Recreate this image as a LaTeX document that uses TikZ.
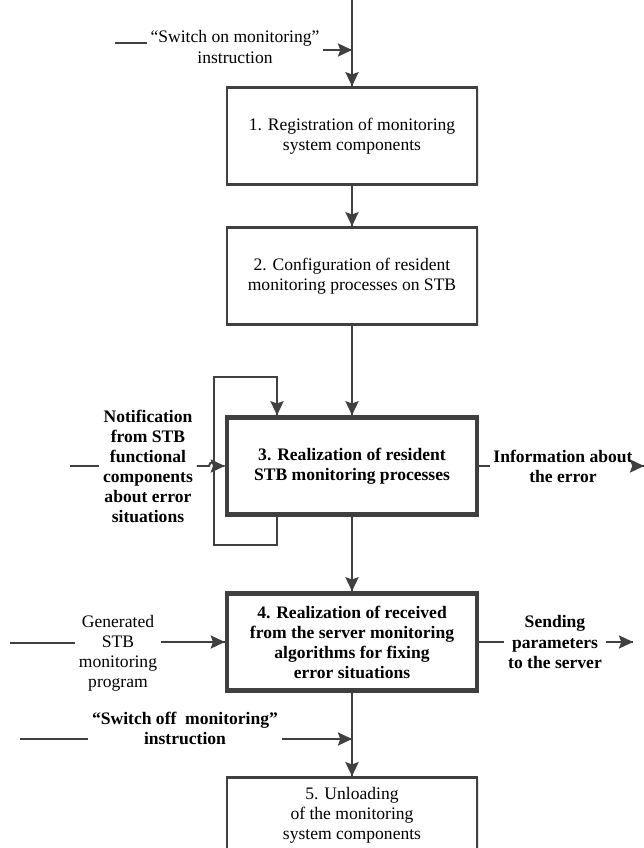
\documentclass[tikz,border=0pt]{standalone}
\usepackage{fontspec}
\setmainfont{Liberation Serif}
\usetikzlibrary{arrows.meta}
\usetikzlibrary{decorations.markings}
\usetikzlibrary{shadows}
\definecolor{mgray}{RGB}{64, 64, 64}
\newcommand{\stdfont}{\fontsize{10}{11.4}\selectfont}
\tikzset{flow/.style = {decoration={markings,
                                   mark=at position 1 with {\arrow{Stealth[length=8pt, width=7.5pt, inset=1.3pt]}}},
                       postaction={decorate}}}
\tikzset{wire/.style = {draw=mgray, color=mgray, line width=1.1pt}}
\tikzset{stage/.style = {draw=mgray, line width=1.5pt, fill=white, text=black,
                         minimum width=5cm, minimum height=1.94cm, align=center,
                         font=\stdfont,
                         drop shadow={shadow xshift=1pt, shadow yshift=-1pt,
                                      opacity=0.2, fill=gray}}}
\tikzset{keystage/.style = {stage, line width=2.6pt, font=\stdfont\bfseries}}
\tikzset{lbl/.style = {align=center, inner sep=2pt, font=\stdfont}}
\tikzset{blbl/.style = {lbl, font=\stdfont\bfseries}}

\begin{document}
\begin{tikzpicture}[x=0.02cm, y=-0.02cm]
      \useasboundingbox (0, 0) rectangle (644, 848);
      \clip (0, 0) rectangle (644, 848);
      % stages
      \node [stage] (reg) at (352, 136) {1. Registration of monitoring\\system components};
      \node [stage] (cfg) at (352, 276) {2. Configuration of resident\\monitoring processes on STB};
      \node [keystage] (real) at (352, 466) {3. Realization of resident\\STB monitoring processes};
      \node [keystage] (algo) at (352, 642) {4. Realization of received\\from the server monitoring\\algorithms for fixing\\error situations};
      \node [stage, minimum height=1.5cm] (unload) at (352, 815) {5. Unloading\\of the monitoring\\system components};
      % labels
      \node [lbl] (swon) at (235, 47) {“Switch on monitoring”\\instruction};
      \node [blbl] (note) at (148, 466) {Notification\\from STB\\functional\\components\\about error\\situations};
      \node [blbl] (info) at (563, 466) {Information about\\the error};
      \node [lbl] (gen) at (118, 653) {Generated\\STB\\monitoring\\program};
      \node [blbl] (send) at (555, 642) {Sending\\parameters\\to the server};
      \node [blbl] (off) at (185, 728) {“Switch off\enspace monitoring”\\instruction};
      % free ends
      \coordinate (start) at (352, 0);
      \coordinate (swon-in) at (115, 43);
      \coordinate (swon-tip) at (352, 50);
      \coordinate (loop-bot) at (214, 545);
      \coordinate (loop-top) at (214, 377);
      \coordinate (note-in) at (70, 466);
      \coordinate (info-out) at (644, 466);
      \coordinate (gen-in) at (10, 643);
      \coordinate (send-out) at (633, 642);
      \coordinate (off-in) at (20, 739);
      \coordinate (off-tip) at (352, 739);
      % main flow
      \draw [wire, flow] (start) -- (reg);
      \draw [wire, flow] (reg) -- (cfg);
      \draw [wire, flow] (cfg) -- (real);
      \draw [wire, flow] (real) -- (algo);
      \draw [wire, flow] (algo) -- (unload);
      % feedback loop
      \draw [wire, flow] ([xshift=-1.5cm]real.south) |- (loop-bot) -- (loop-top)
            -| ([xshift=-1.5cm]real.north);
      % inputs
      \draw [wire] (swon-in) -- (swon-in -| swon.west);
      \draw [wire, flow] (swon.east |- swon-tip) -- (swon-tip);
      \draw [wire] (note-in) -- (note-in -| note.west);
      \draw [wire, flow] (note.east |- real.west) -- ([xshift=-0.1cm]loop-top |- real.west)
            arc [start angle=180, end angle=0, radius=0.08cm] -- (real.west);
      \draw [wire] (gen-in) -- (gen-in -| gen.west);
      \draw [wire, flow] (gen.east |- algo.west) -- (algo.west);
      \draw [wire] (off-in) -- (off-in -| off.west);
      \draw [wire, flow] (off.east |- off-tip) -- (off-tip);
      % outputs
      \draw [wire] (real) -- (info);
      \draw [wire, flow] (info) -- (info-out);
      \draw [wire] (algo) -- (send);
      \draw [wire, flow] (send) -- (send-out);
    \end{tikzpicture}
\end{document}
